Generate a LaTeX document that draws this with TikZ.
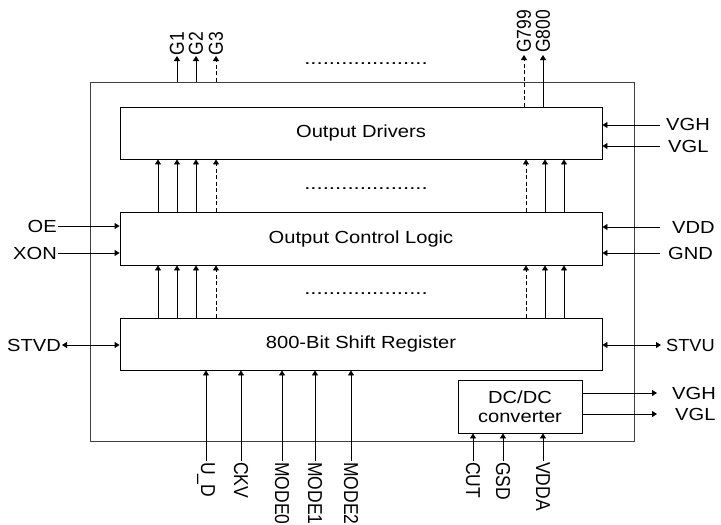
\documentclass[tikz,border=0pt]{standalone}
\usepackage{fontspec}
\usepackage{graphicx}
\setmainfont{Liberation Sans}
\usetikzlibrary{arrows.meta}
\newcommand\hs[1]{\scalebox{1.15}[1]{#1}}
\newcommand\hb[1]{\raisebox{-1.5pt}{\scalebox{1.15}[1]{#1}}}
\newcommand\vs[1]{\scalebox{1}[1.15]{#1}}
\newcommand\dotrow{\scalebox{1.27}[1]{....................}}
\begin{document}
\begin{tikzpicture}[x=1pt,y=-1pt,
  lbl/.style={font=\fontsize{17.5}{20}\selectfont, inner sep=1pt},
  blk/.style={draw=black, line width=0.9pt, font=\fontsize{17.5}{20}\selectfont, align=center, inner sep=0pt},
  arr/.style={line width=0.9pt, -{Triangle[length=5pt,width=6pt]}},
  darr/.style={line width=0.9pt, {Triangle[length=5pt,width=6pt]}-{Triangle[length=5pt,width=6pt]}},
  dsh/.style={dash pattern=on 4pt off 2.5pt}
]
\useasboundingbox (0,0) rectangle (721,525);
% blocks
\node[blk, draw=black!75, minimum width=544pt, minimum height=359pt] (outer) at (362,261.5) {};
\node[blk, minimum width=482pt, minimum height=52pt] (drv) at (361,133) {\hb{Output Drivers}};
\node[blk, minimum width=482pt, minimum height=53pt] (ctl) at (361,238.5) {\hb{Output Control Logic}};
\node[blk, minimum width=482pt, minimum height=52pt] (sr) at (361,344) {\hb{800-Bit Shift Register}};
\node[blk, fill=white, minimum width=124pt, minimum height=53pt] (dc) at (520,406.5) {\hs{DC/DC}\\[-1pt]\hs{converter}};

% dotted rows
\node[lbl, anchor=base] (dots1) at (366,64) {\dotrow};
\node[lbl, anchor=base] (dots2) at (366,189) {\dotrow};
\node[lbl, anchor=base] (dots3) at (366,294) {\dotrow};

% top outputs
\coordinate (g1) at (177,56);
\coordinate (g2) at (196,56);
\coordinate (g3) at (216,56);
\coordinate (g799) at (524,55);
\coordinate (g800) at (543,55);
\draw[arr] (outer.north -| g1) -- (g1);
\draw[arr] (outer.north -| g2) -- (g2);
\draw[arr, dsh] (outer.north -| g3) -- (g3);
\draw[arr, dsh] (drv.north -| g799) -- (g799);
\draw[arr] (drv.north -| g800) -- (g800);
\node[lbl, rotate=90, anchor=west, inner sep=0.5pt] (lg1) at (g1) {\vs{G1}};
\node[lbl, rotate=90, anchor=west, inner sep=0.5pt] (lg2) at (g2) {\vs{G2}};
\node[lbl, rotate=90, anchor=west, inner sep=0.5pt] (lg3) at (g3) {\vs{G3}};
\node[lbl, rotate=90, anchor=west, inner sep=2pt] (lg799) at (g799) {\vs{G799}};
\node[lbl, rotate=90, anchor=west, inner sep=2pt] (lg800) at (g800) {\vs{G800}};

% inter-block arrows
\foreach \x/\s in {158/solid,177/solid,196/solid,216/dsh,526/dsh,545/solid,564/solid}{
  \coordinate (ua\x) at (\x,0);
  \draw[arr, \s] (ctl.north -| ua\x) -- (drv.south -| ua\x);
  \draw[arr, \s] (sr.north -| ua\x) -- (ctl.south -| ua\x);
}

% left inputs
\coordinate (oe) at (58,226);
\coordinate (xon) at (58,253);
\coordinate (stvd) at (62,345);
\draw[arr] (oe) -- (oe -| ctl.west);
\draw[arr] (xon) -- (xon -| ctl.west);
\draw[darr] (stvd) -- (stvd -| sr.west);
\node[lbl, anchor=east] (loe) at (oe) {\hs{OE}};
\node[lbl, anchor=east] (lxon) at (xon) {\hs{XON}};
\node[lbl, anchor=east] (lstvd) at (stvd) {\hs{STVD}};

% right inputs
\coordinate (vgh) at (660,125);
\coordinate (vgl) at (660,146);
\coordinate (vdd) at (660,227);
\coordinate (gnd) at (660,253);
\coordinate (stvu) at (661,345);
\draw[arr] (vgh) -- (vgh -| drv.east);
\draw[arr] (vgl) -- (vgl -| drv.east);
\draw[arr] (vdd) -- (vdd -| ctl.east);
\draw[arr] (gnd) -- (gnd -| ctl.east);
\draw[darr] (sr.east |- stvu) -- (stvu);
\node[lbl, anchor=west] (lvgh) at (665,124) {\hs{VGH}};
\node[lbl, anchor=west] (lvgl) at (667,146) {\hs{VGL}};
\node[lbl, anchor=west] (lvdd) at (671,227) {\hs{VDD}};
\node[lbl, anchor=west] (lgnd) at (667,253) {\hs{GND}};
\node[lbl, anchor=west, inner sep=0pt] (lstvu) at (666,345) {\scalebox{1.04}[1]{STVU}};

% DC/DC outputs
\coordinate (ovgh) at (657,393);
\coordinate (ovgl) at (657,414);
\draw[arr] (dc.east |- ovgh) -- (ovgh);
\draw[arr] (dc.east |- ovgl) -- (ovgl);
\node[lbl, anchor=west] (lovgh) at (671,393) {\hs{VGH}};
\node[lbl, anchor=west] (lovgl) at (674,414) {\hs{VGL}};

% bottom inputs to shift register
\foreach \x/\t in {206/U\_D,241/CKV,282/MODE0,315/MODE1,351/MODE2}{
  \coordinate (b\x) at (\x,461);
  \draw[arr] (b\x) -- (sr.south -| b\x);
  \node[lbl, rotate=-90, anchor=west, inner sep=1pt] (lb\x) at (b\x) {\vs{\t}};
}
% bottom inputs to DC/DC
\foreach \x/\t in {473/CUT,503/GSD,543/VDDA}{
  \coordinate (c\x) at (\x,461);
  \draw[arr] (c\x) -- (dc.south -| c\x);
  \node[lbl, rotate=-90, anchor=west, inner sep=1pt] (lc\x) at (c\x) {\vs{\t}};
}
\end{tikzpicture}
\end{document}
